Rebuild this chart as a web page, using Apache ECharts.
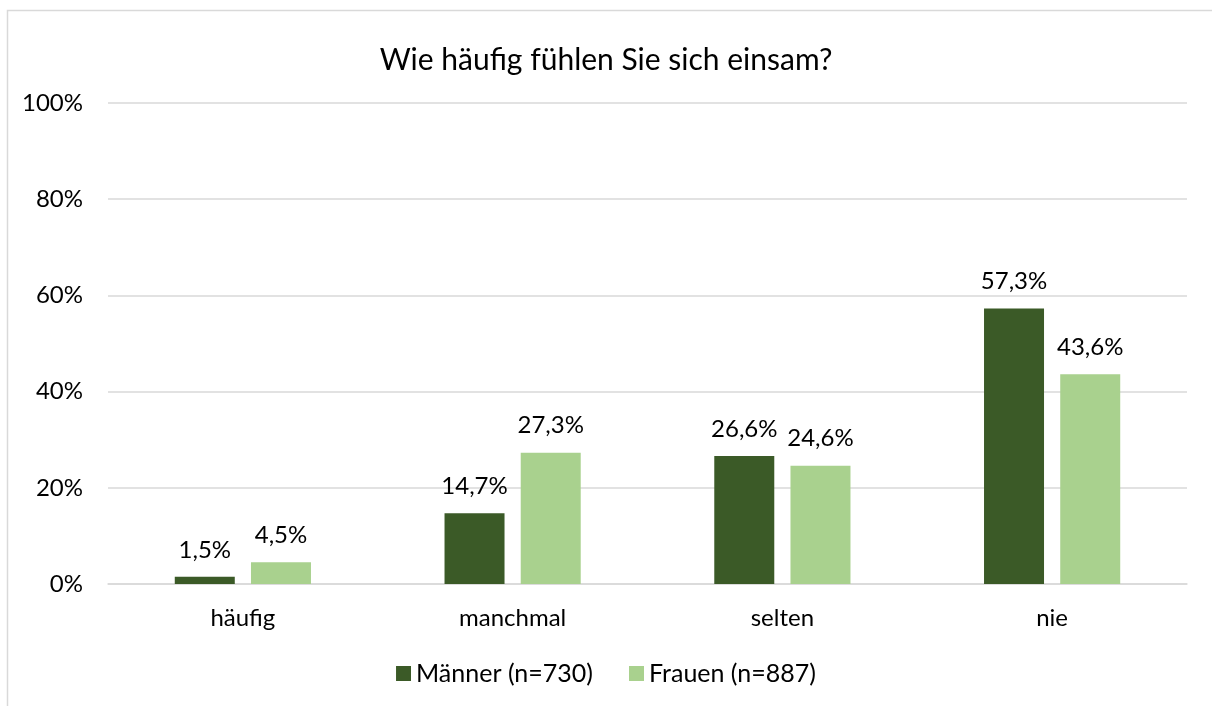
<!DOCTYPE html>
<html>
<head>
<meta charset="utf-8">
<script src="https://cdn.jsdelivr.net/npm/echarts@6/dist/echarts.min.js"></script>
<style>
  html, body { margin: 0; padding: 0; background: #fff; }
  #chart { width: 1212px; height: 706px; }
</style>
</head>
<body>
<div id="chart"></div>
<script>
const categories = ['häufig', 'manchmal', 'selten', 'nie']
const maenner = [1.5, 14.7, 26.6, 57.3]
const frauen = [4.5, 27.3, 24.6, 43.6]
const seriesNames = ['Männer (n=730)', 'Frauen (n=887)']

const font = 'Lato, "Open Sans", sans-serif'
const fmt = p => String(p.value.toFixed(1)).replace('.', ',') + '%'

let chart = echarts.init(document.getElementById('chart'))
chart.setOption({
  animation: false,
  textStyle: { fontFamily: font },
  title: {
    text: 'Wie häufig fühlen Sie sich einsam?',
    left: 'center',
    top: 40,
    textStyle: { fontFamily: font, fontSize: 30, fontWeight: 'normal', color: '#000' }
  },
  graphic: [{
    type: 'rect',
    shape: { x: 7.5, y: 10.5, width: 1300, height: 800 },
    style: { fill: 'none', stroke: '#d9d9d9', lineWidth: 1.5 },
    silent: true
  }],
  legend: {
    bottom: 15,
    left: 'center',
    itemWidth: 15,
    itemHeight: 15,
    itemGap: 36,
    icon: 'rect',
    textStyle: { fontFamily: font, fontSize: 25, color: '#000' },
    data: seriesNames
  },
  grid: { left: 108, right: 25, top: 103, bottom: 122 },
  xAxis: {
    type: 'category',
    data: categories,
    axisTick: { show: false },
    axisLine: { lineStyle: { color: '#d9d9d9', width: 1.5 } },
    axisLabel: { fontFamily: font, fontSize: 24, color: '#000', margin: 22 }
  },
  yAxis: {
    type: 'value',
    min: 0,
    max: 100,
    interval: 20,
    axisLabel: { formatter: '{value}%', fontFamily: font, fontSize: 24, color: '#000', margin: 25 },
    splitLine: { lineStyle: { color: '#d9d9d9', width: 1.5 } },
    axisLine: { show: false },
    axisTick: { show: false }
  },
  series: [
    {
      name: seriesNames[0],
      type: 'bar',
      data: maenner,
      barWidth: 60,
      barGap: '27%',
      itemStyle: { color: '#3B5A27' },
      label: { show: true, position: 'top', distance: 15, formatter: fmt, fontFamily: font, fontSize: 24, color: '#000' }
    },
    {
      name: seriesNames[1],
      type: 'bar',
      data: frauen,
      barWidth: 60,
      itemStyle: { color: '#A9D18E' },
      label: { show: true, position: 'top', distance: 15, formatter: fmt, fontFamily: font, fontSize: 24, color: '#000' }
    }
  ]
})
</script>
</body>
</html>
